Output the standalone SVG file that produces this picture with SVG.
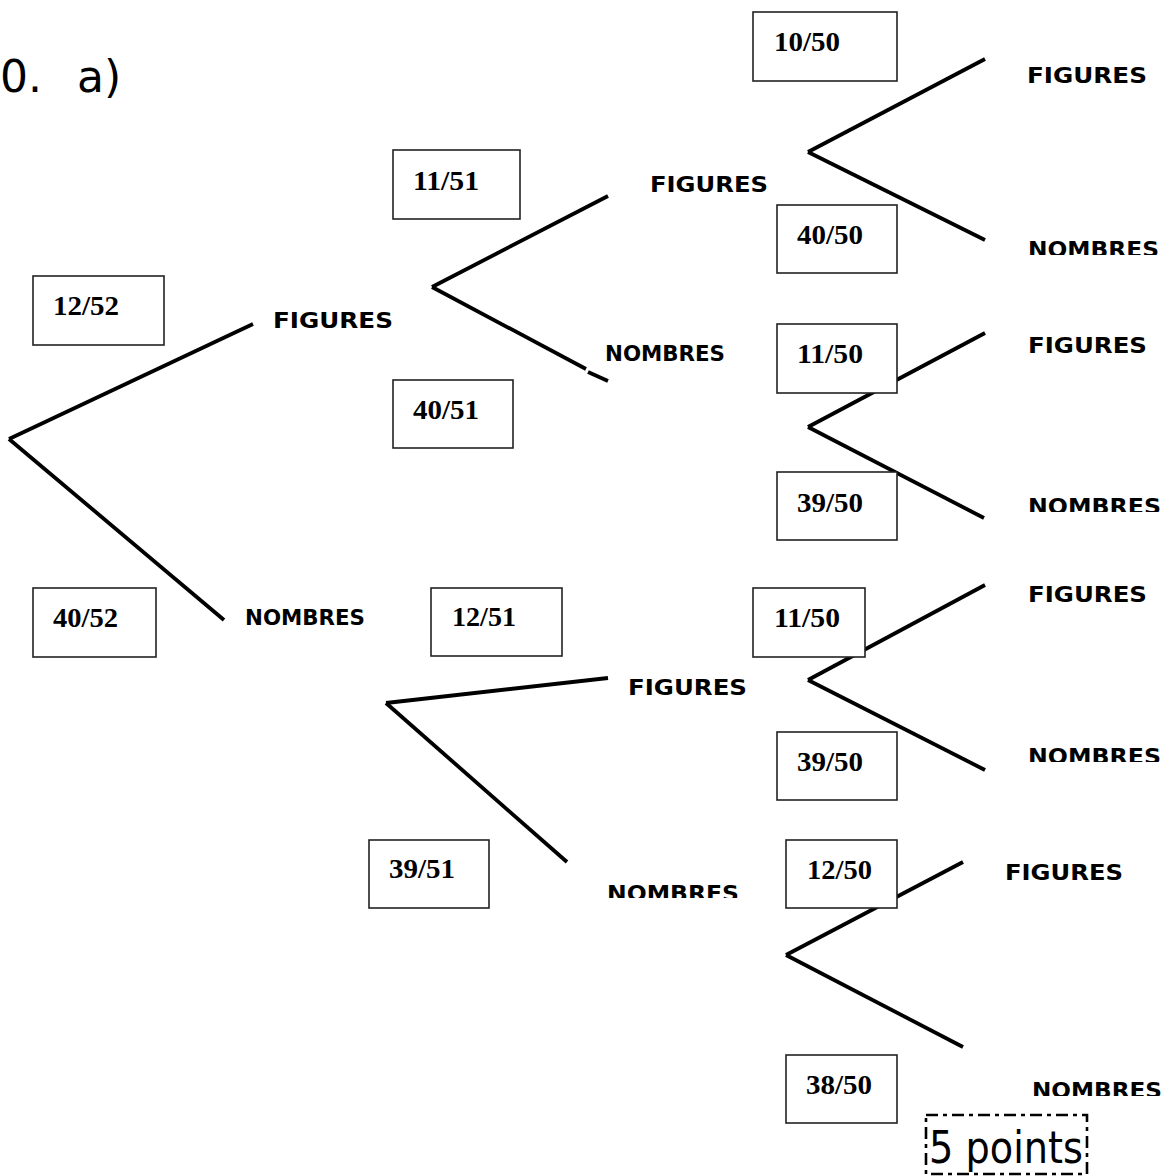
<svg xmlns="http://www.w3.org/2000/svg" width="1168" height="1176" viewBox="0 0 1168 1176">
<style>
.ln{stroke:#000;stroke-width:3.8;fill:none;stroke-linecap:butt}
.bx{fill:#fff;stroke:#222;stroke-width:1.6}
.fr{font-family:"Liberation Serif","Times New Roman",serif;font-weight:bold;font-size:27px;fill:#000}
.lb{font-family:"DejaVu Sans","Liberation Sans",sans-serif;font-weight:bold;font-size:22px;fill:#000}
.tt{font-family:"DejaVu Sans","Liberation Sans",sans-serif;font-size:44px;fill:#000}
</style>
<defs>
<clipPath id="c1"><rect x="1020" y="230" width="148" height="25"/></clipPath>
<clipPath id="c2"><rect x="1020" y="487" width="148" height="25"/></clipPath>
<clipPath id="c3"><rect x="1020" y="737" width="148" height="25"/></clipPath>
<clipPath id="c4"><rect x="600" y="875" width="148" height="23"/></clipPath>
<clipPath id="c5"><rect x="1025" y="1072" width="143" height="24"/></clipPath>
</defs>
<rect width="1168" height="1176" fill="#fff"/>
<g id="title">
<text class="tt" x="-28" y="92">10.</text>
<text class="tt" x="77" y="92">a)</text>
</g>
<g id="connectors">
<line class="ln" x1="9" y1="439" x2="253" y2="324"/>
<line class="ln" x1="9" y1="439" x2="224" y2="620"/>
<line class="ln" x1="432" y1="287" x2="608" y2="196"/>
<line class="ln" x1="432" y1="287" x2="586" y2="369"/>
<line class="ln" x1="588" y1="372" x2="608" y2="381"/>
<line class="ln" x1="386" y1="703" x2="608" y2="678"/>
<line class="ln" x1="386" y1="703" x2="567" y2="862"/>
<line class="ln" x1="808" y1="152" x2="985" y2="59"/>
<line class="ln" x1="808" y1="152" x2="985" y2="240"/>
<line class="ln" x1="808" y1="427" x2="985" y2="333"/>
<line class="ln" x1="808" y1="427" x2="984" y2="518"/>
<line class="ln" x1="808" y1="680" x2="985" y2="585"/>
<line class="ln" x1="808" y1="680" x2="985" y2="770"/>
<line class="ln" x1="786" y1="955" x2="963" y2="862"/>
<line class="ln" x1="786" y1="955" x2="963" y2="1047"/>
</g>
<g id="p-12-52"><rect class="bx" x="33" y="276" width="131" height="69"/><text class="fr" x="53" y="315" textLength="66" lengthAdjust="spacingAndGlyphs">12/52</text></g>
<g id="p-40-52"><rect class="bx" x="33" y="588" width="123" height="69"/><text class="fr" x="53" y="627" textLength="65" lengthAdjust="spacingAndGlyphs">40/52</text></g>
<g id="p-11-51"><rect class="bx" x="393" y="150" width="127" height="69"/><text class="fr" x="413" y="190" textLength="66" lengthAdjust="spacingAndGlyphs">11/51</text></g>
<g id="p-40-51"><rect class="bx" x="393" y="380" width="120" height="68"/><text class="fr" x="413" y="419" textLength="66" lengthAdjust="spacingAndGlyphs">40/51</text></g>
<g id="p-12-51"><rect class="bx" x="431" y="588" width="131" height="68"/><text class="fr" x="452" y="626" textLength="64" lengthAdjust="spacingAndGlyphs">12/51</text></g>
<g id="p-39-51"><rect class="bx" x="369" y="840" width="120" height="68"/><text class="fr" x="389" y="878" textLength="66" lengthAdjust="spacingAndGlyphs">39/51</text></g>
<g id="p-10-50"><rect class="bx" x="753" y="12" width="144" height="69"/><text class="fr" x="774" y="51" textLength="66" lengthAdjust="spacingAndGlyphs">10/50</text></g>
<g id="p-40-50"><rect class="bx" x="777" y="205" width="120" height="68"/><text class="fr" x="797" y="244" textLength="66" lengthAdjust="spacingAndGlyphs">40/50</text></g>
<g id="p-11-50a"><rect class="bx" x="777" y="324" width="120" height="69"/><text class="fr" x="797" y="363" textLength="66" lengthAdjust="spacingAndGlyphs">11/50</text></g>
<g id="p-39-50a"><rect class="bx" x="777" y="472" width="120" height="68"/><text class="fr" x="797" y="512" textLength="66" lengthAdjust="spacingAndGlyphs">39/50</text></g>
<g id="p-11-50b"><rect class="bx" x="753" y="588" width="112" height="69"/><text class="fr" x="774" y="627" textLength="66" lengthAdjust="spacingAndGlyphs">11/50</text></g>
<g id="p-39-50b"><rect class="bx" x="777" y="732" width="120" height="68"/><text class="fr" x="797" y="771" textLength="66" lengthAdjust="spacingAndGlyphs">39/50</text></g>
<g id="p-12-50"><rect class="bx" x="786" y="840" width="111" height="68"/><text class="fr" x="807" y="879" textLength="65" lengthAdjust="spacingAndGlyphs">12/50</text></g>
<g id="p-38-50"><rect class="bx" x="786" y="1055" width="111" height="68"/><text class="fr" x="806" y="1094" textLength="66" lengthAdjust="spacingAndGlyphs">38/50</text></g>
<g id="n-fig1"><text class="lb" x="273" y="328" textLength="120" lengthAdjust="spacingAndGlyphs">FIGURES</text></g>
<g id="n-nom1"><text class="lb" x="245" y="625" textLength="120" lengthAdjust="spacingAndGlyphs">NOMBRES</text></g>
<g id="n-fig2"><text class="lb" x="650" y="192" textLength="118" lengthAdjust="spacingAndGlyphs">FIGURES</text></g>
<g id="n-nom2"><text class="lb" x="605" y="361" textLength="120" lengthAdjust="spacingAndGlyphs">NOMBRES</text></g>
<g id="n-fig3"><text class="lb" x="628" y="695" textLength="119" lengthAdjust="spacingAndGlyphs">FIGURES</text></g>
<g id="n-nom3" clip-path="url(#c4)"><text class="lb" x="607" y="901" textLength="132" lengthAdjust="spacingAndGlyphs">NOMBRES</text></g>
<g id="n-fig4"><text class="lb" x="1027" y="83" textLength="120" lengthAdjust="spacingAndGlyphs">FIGURES</text></g>
<g id="n-nom4" clip-path="url(#c1)"><text class="lb" x="1028" y="257" textLength="131" lengthAdjust="spacingAndGlyphs">NOMBRES</text></g>
<g id="n-fig5"><text class="lb" x="1028" y="353" textLength="119" lengthAdjust="spacingAndGlyphs">FIGURES</text></g>
<g id="n-nom5" clip-path="url(#c2)"><text class="lb" x="1028" y="514" textLength="133" lengthAdjust="spacingAndGlyphs">NOMBRES</text></g>
<g id="n-fig6"><text class="lb" x="1028" y="602" textLength="119" lengthAdjust="spacingAndGlyphs">FIGURES</text></g>
<g id="n-nom6" clip-path="url(#c3)"><text class="lb" x="1028" y="764" textLength="133" lengthAdjust="spacingAndGlyphs">NOMBRES</text></g>
<g id="n-fig7"><text class="lb" x="1005" y="880" textLength="118" lengthAdjust="spacingAndGlyphs">FIGURES</text></g>
<g id="n-nom7" clip-path="url(#c5)"><text class="lb" x="1032" y="1098" textLength="130" lengthAdjust="spacingAndGlyphs">NOMBRES</text></g>
<g id="points">
<rect x="926" y="1115" width="161" height="59" fill="none" stroke="#000" stroke-width="2.6" stroke-dasharray="12 5 4 5"/>
<text class="tt" x="929" y="1163" font-size="41" textLength="154" lengthAdjust="spacingAndGlyphs">5 points</text>
</g>
</svg>
